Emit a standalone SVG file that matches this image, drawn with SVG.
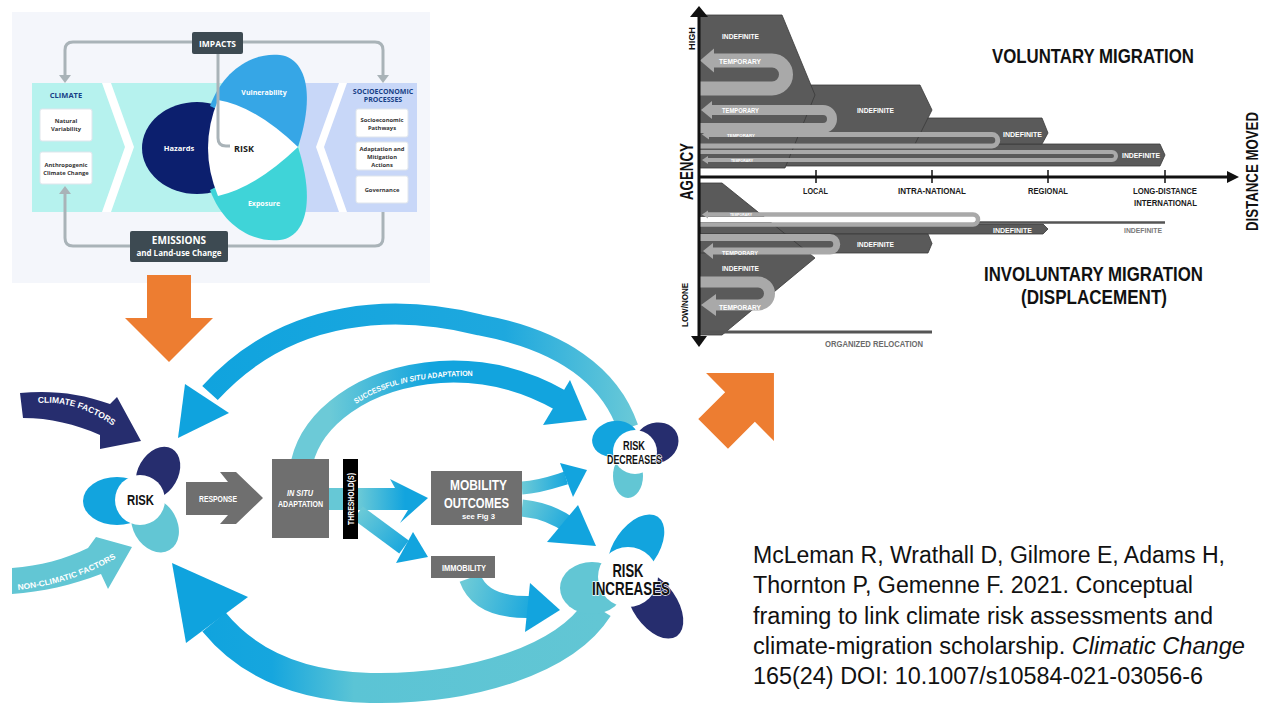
<svg xmlns="http://www.w3.org/2000/svg" width="1280" height="720" viewBox="0 0 1280 720">
<defs>
<style>
.os{font-family:"Open Sans","Noto Sans","Liberation Sans",sans-serif;font-weight:700;text-anchor:middle}
.cd{font-family:"Liberation Sans","DejaVu Sans",sans-serif;font-weight:700;text-anchor:middle}
.w{fill:#fff}
.conn{fill:none;stroke:#a9b3b8;stroke-width:3}
.cah{fill:#a9b3b8}
.wbox{fill:#fff;stroke:#dfe5ec;stroke-width:1}
.band{fill:#5a5a5a;stroke:#3a3a3a;stroke-width:0.8}
.tu{fill:none;stroke:#a9a9a9}
.tl{fill:#a9a9a9}
.gbox{fill:#6f6f6f}
.blue{fill:#12a4de}
.navy{fill:#262d6e}
.lcy{fill:#62c6d4}
</style>
<linearGradient id="gTop" gradientUnits="userSpaceOnUse" x1="640" y1="0" x2="190" y2="0">
<stop offset="0" stop-color="#6ccad7"/><stop offset="0.3" stop-color="#1ea8de"/><stop offset="1" stop-color="#0fa3de"/>
</linearGradient>
<linearGradient id="gSucc" gradientUnits="userSpaceOnUse" x1="330" y1="0" x2="430" y2="0">
<stop offset="0" stop-color="#6ccad7"/><stop offset="1" stop-color="#12a4de"/>
</linearGradient>
<linearGradient id="gBot" gradientUnits="userSpaceOnUse" x1="600" y1="0" x2="190" y2="0">
<stop offset="0" stop-color="#62c6d4"/><stop offset="0.6" stop-color="#5bc4d5"/><stop offset="0.8" stop-color="#16a6de"/><stop offset="1" stop-color="#0fa3de"/>
</linearGradient>
<linearGradient id="gMob" gradientUnits="userSpaceOnUse" x1="358" y1="0" x2="405" y2="0">
<stop offset="0" stop-color="#6ccad7"/><stop offset="1" stop-color="#12a4de"/>
</linearGradient>
<linearGradient id="gImm" gradientUnits="userSpaceOnUse" x1="360" y1="510" x2="410" y2="550">
<stop offset="0" stop-color="#6ccad7"/><stop offset="1" stop-color="#12a4de"/>
</linearGradient>
<linearGradient id="gM1" gradientUnits="userSpaceOnUse" x1="522" y1="0" x2="570" y2="0">
<stop offset="0" stop-color="#6ccad7"/><stop offset="1" stop-color="#12a4de"/>
</linearGradient>
<linearGradient id="gM2" gradientUnits="userSpaceOnUse" x1="522" y1="505" x2="575" y2="530">
<stop offset="0" stop-color="#6ccad7"/><stop offset="1" stop-color="#12a4de"/>
</linearGradient>
<linearGradient id="gI" gradientUnits="userSpaceOnUse" x1="465" y1="585" x2="540" y2="605">
<stop offset="0" stop-color="#6ccad7"/><stop offset="1" stop-color="#12a4de"/>
</linearGradient>
<path id="tpSucc" d="M356,404 C385,384 425,375 482,376"/>
<path id="tpClim" d="M38,403 C62,401 90,408 116,428"/>
<path id="tpNon" d="M18,590 C55,586 92,574 124,553"/>
</defs>

<!-- ============ TOP-LEFT: risk framework ============ -->
<g id="framework-panel">
<rect x="12" y="12" width="418" height="271" fill="#f4f6fb"/>
<rect x="32" y="83" width="270" height="129" fill="#b6f2ee"/>
<rect x="300" y="83" width="117" height="129" fill="#c8d7f8"/>
<polygon points="102,83 111,83 134,147 111,212 102,212 125,147" fill="#fff"/>
<polygon points="339,83 347,83 324,147 347,212 339,212 316,147" fill="#fff"/>
</g>
<g id="tl-connectors">
<path class="conn" d="M192,42 H73 Q65,42 65,50 V76"/>
<polygon class="cah" points="59,75 71,75 65,83"/>
<path class="conn" d="M243,42 H375 Q383,42 383,50 V76"/>
<polygon class="cah" points="377,75 389,75 383,83"/>
<path class="conn" d="M130,246 H73 Q65,246 65,238 V193"/>
<polygon class="cah" points="59,194 71,194 65,186"/>
<path class="conn" d="M228,246 H375 Q383,246 383,238 V212"/>
</g>
<g id="climate">
<text class="os" x="66" y="98" font-size="7.5" fill="#173f86">CLIMATE</text>
<rect class="wbox" x="40" y="109" width="52" height="32" rx="2"/>
<text class="os" x="66" y="123" font-size="5.8" fill="#333">Natural</text>
<text class="os" x="66" y="131" font-size="5.8" fill="#333">Variability</text>
<rect class="wbox" x="40" y="152" width="52" height="32" rx="2"/>
<text class="os" x="66" y="167" font-size="5.8" fill="#333">Anthropogenic</text>
<text class="os" x="66" y="175" font-size="5.8" fill="#333">Climate Change</text>
</g>
<g id="risk-petals">
<ellipse cx="197" cy="148" rx="55" ry="46" fill="#0c1f6e"/>
<path d="M210,106 C224,68 255,52 280,55 C305,58 316,92 298,147 Z" fill="#36a6e6"/>
<path d="M210,190 C224,228 255,243 280,240 C305,237 316,203 298,147 Z" fill="#3fd4d8"/>
<path d="M218,100 Q255,106 298,147 Q255,188 218,196 Q198,148 218,100 Z" fill="#fff"/>
<text class="os" x="179" y="151" font-size="7.5" fill="#fff">Hazards</text>
<text class="os" x="264" y="95" font-size="7" fill="#fff">Vulnerability</text>
<text class="os" x="264" y="206" font-size="7" fill="#fff">Exposure</text>
<path class="conn" d="M218,54 V138 Q218,146 226,146 H230"/>
<text class="os" x="244" y="152" font-size="9" fill="#1a1a1a">RISK</text>
</g>
<g id="impacts">
<rect x="192" y="32" width="51" height="22" rx="2" fill="#3d4a52"/>
<text class="os" x="217.5" y="46.5" font-size="8.5" fill="#fff">IMPACTS</text>
</g>
<g id="emissions">
<rect x="130" y="231" width="98" height="31" rx="2" fill="#3d4a52"/>
<text class="os" x="179" y="244" font-size="10" fill="#fff">EMISSIONS</text>
<text class="os" x="179" y="256" font-size="8" fill="#fff">and Land-use Change</text>
</g>
<g id="socioeconomic">
<text class="os" x="383" y="94" font-size="7" fill="#173f86">SOCIOECONOMIC</text>
<text class="os" x="383" y="102" font-size="7" fill="#173f86">PROCESSES</text>
<rect class="wbox" x="356" y="109" width="52" height="28" rx="2"/>
<text class="os" x="382" y="122" font-size="5.8" fill="#333">Socioeconomic</text>
<text class="os" x="382" y="130" font-size="5.8" fill="#333">Pathways</text>
<rect class="wbox" x="356" y="142" width="52" height="28" rx="2"/>
<text class="os" x="382" y="150.5" font-size="5.8" fill="#333">Adaptation and</text>
<text class="os" x="382" y="158.5" font-size="5.8" fill="#333">Mitigation</text>
<text class="os" x="382" y="166.5" font-size="5.8" fill="#333">Actions</text>
<rect class="wbox" x="356" y="176" width="52" height="27" rx="2"/>
<text class="os" x="382" y="191.5" font-size="5.8" fill="#333">Governance</text>
</g>

<!-- ============ ORANGE ARROWS ============ -->
<g id="orange-arrows" fill="#ed7d31">
<polygon points="147,275 191,275 191,318 213,318 169,362 125,318 147,318"/>
<polygon transform="translate(740,407) rotate(-45)" points="-38,-21 0,-21 0,-48 48,0 0,48 0,21 -38,21"/>
</g>

<!-- ============ TOP-RIGHT: migration chart ============ -->
<g id="migration-chart">
<polygon class="band" points="699,144 1160,144 1165,155 1160,166 699,166"/>
<polygon class="band" points="699,118 1042,118 1048,133 1042,144 699,144"/>
<polygon class="band" points="699,85 920,85 932,110 915,144 699,144"/>
<polygon class="band" points="699,15 782,15 815,95 785,168 699,168"/>
<polygon points="700,183 722,183 815,258 722,335 700,335" fill="#5a5a5a"/>
<polygon class="band" points="700,224 1043,224 1048,229 1043,234 700,234"/>
<polygon class="band" points="700,234 928,234 932,243.5 928,253 700,253"/>
<polygon points="700,183 722,183 815,258 722,335 700,335" fill="none" stroke="#3a3a3a" stroke-width="0.8"/>
<path d="M975,222.5 H1165" stroke="#555" stroke-width="2.5"/>
<path d="M702,332 H932" stroke="#555" stroke-width="3"/>
<!-- temporary U-turns -->
<path class="tu" stroke-width="14" d="M712,60.5 H772 A14 14 0 0 1 772,88.5 H699"/>
<polygon class="tl" points="700,60.5 714,48.5 714,72.5"/>
<path class="tu" stroke-width="10" d="M710,110 H823 A9 9 0 0 1 823,128 H699"/>
<polygon class="tl" points="701,110 712,101 712,119"/>
<path class="tu" stroke-width="5" d="M707,134.5 H992 A5.75 5.75 0 0 1 992,146 H699"/>
<polygon class="tl" points="702,134.5 709,129.5 709,139.5"/>
<path class="tu" stroke-width="4" d="M699,152 H1112 A4 4 0 0 1 1112,160 H707"/>
<polygon class="tl" points="702,160 708,156 708,164"/>
<rect x="700" y="217" width="274" height="5" fill="#fff"/>
<path class="tu" stroke-width="4.5" d="M706,214.5 H973 A5 5 0 0 1 973,224.5 H699"/>
<polygon class="tl" points="702,214.5 708,210.5 708,218.5"/>
<path class="tu" stroke-width="7" d="M699,237.5 H830 A6.75 6.75 0 0 1 830,251 H712"/>
<polygon class="tl" points="703,251 713,243 713,259"/>
<path class="tu" stroke-width="11" d="M699,282 H758 A11.5 11.5 0 0 1 758,305 H715"/>
<polygon class="tl" points="701,305 716,294 716,316"/>
<!-- band labels -->
<g class="cd" fill="#fff">
<text x="740.5" y="39" font-size="7.5" textLength="37" lengthAdjust="spacingAndGlyphs">INDEFINITE</text>
<text x="740" y="63.5" font-size="7.5" textLength="42" lengthAdjust="spacingAndGlyphs">TEMPORARY</text>
<text x="740.5" y="113" font-size="7" textLength="37" lengthAdjust="spacingAndGlyphs">TEMPORARY</text>
<text x="875.5" y="113" font-size="7" textLength="37" lengthAdjust="spacingAndGlyphs">INDEFINITE</text>
<text x="741" y="137" font-size="3.5" textLength="28" lengthAdjust="spacingAndGlyphs">TEMPORARY</text>
<text x="1022.5" y="137" font-size="7" textLength="39" lengthAdjust="spacingAndGlyphs">INDEFINITE</text>
<text x="742" y="161.5" font-size="3" textLength="22" lengthAdjust="spacingAndGlyphs">TEMPORARY</text>
<text x="1141" y="158" font-size="7" textLength="38" lengthAdjust="spacingAndGlyphs">INDEFINITE</text>
<text x="741" y="216" font-size="3" textLength="22" lengthAdjust="spacingAndGlyphs">TEMPORARY</text>
<text x="1012.5" y="233" font-size="7" textLength="39" lengthAdjust="spacingAndGlyphs">INDEFINITE</text>
<text x="875.5" y="247" font-size="7" textLength="37" lengthAdjust="spacingAndGlyphs">INDEFINITE</text>
<text x="740" y="255" font-size="6" textLength="36" lengthAdjust="spacingAndGlyphs">TEMPORARY</text>
<text x="740.5" y="271" font-size="7" textLength="37" lengthAdjust="spacingAndGlyphs">INDEFINITE</text>
<text x="740" y="310" font-size="7.5" textLength="42" lengthAdjust="spacingAndGlyphs">TEMPORARY</text>
</g>
<text class="cd" x="1143" y="233" font-size="7" fill="#7a7a7a" textLength="38" lengthAdjust="spacingAndGlyphs">INDEFINITE</text>
<text class="cd" x="874" y="347" font-size="9" fill="#6b6b6b" textLength="98" lengthAdjust="spacingAndGlyphs">ORGANIZED RELOCATION</text>
<!-- axes -->
<path d="M699,15 V338" stroke="#111" stroke-width="3"/>
<polygon points="699,6 690,17 708,17" fill="#111"/>
<polygon points="699,347 691,336 707,336" fill="#111"/>
<path d="M699,177 H1229" stroke="#111" stroke-width="3"/>
<polygon points="1239,177 1227,171 1227,183" fill="#111"/>
<g stroke="#111" stroke-width="1.5">
<path d="M816,170 V183"/><path d="M932,170 V183"/><path d="M1048,170 V183"/><path d="M1165,170 V183"/>
</g>
<g class="cd" fill="#1a1a1a" font-size="9.5">
<text x="815.5" y="194" textLength="25" lengthAdjust="spacingAndGlyphs">LOCAL</text>
<text x="932" y="194" textLength="68" lengthAdjust="spacingAndGlyphs">INTRA-NATIONAL</text>
<text x="1048" y="194" textLength="40" lengthAdjust="spacingAndGlyphs">REGIONAL</text>
<text x="1165" y="194" textLength="64" lengthAdjust="spacingAndGlyphs">LONG-DISTANCE</text>
<text x="1165.5" y="206" textLength="63" lengthAdjust="spacingAndGlyphs">INTERNATIONAL</text>
</g>
<g class="cd" fill="#111">
<text x="1093" y="63" font-size="20" textLength="202" lengthAdjust="spacingAndGlyphs">VOLUNTARY MIGRATION</text>
<text x="1093.5" y="281" font-size="19.5" textLength="219" lengthAdjust="spacingAndGlyphs">INVOLUNTARY MIGRATION</text>
<text x="1094" y="304" font-size="19.5" textLength="146" lengthAdjust="spacingAndGlyphs">(DISPLACEMENT)</text>
<text transform="translate(693,171.5) rotate(-90)" font-size="19" textLength="57" lengthAdjust="spacingAndGlyphs">AGENCY</text>
<text transform="translate(695,38.5) rotate(-90)" font-size="9.5" textLength="23" lengthAdjust="spacingAndGlyphs">HIGH</text>
<text transform="translate(688,305) rotate(-90)" font-size="9.5" textLength="44" lengthAdjust="spacingAndGlyphs">LOW/NONE</text>
<text transform="translate(1258,171.5) rotate(-90)" font-size="16.5" textLength="119" lengthAdjust="spacingAndGlyphs">DISTANCE MOVED</text>
</g>
</g>

<!-- ============ BOTTOM: climate-mobility framework ============ -->
<g id="connectors">
<path d="M628,428 C610,375 560,340 480,325 C400,305 290,305 210,393" fill="none" stroke="url(#gTop)" stroke-width="21"/>
<polygon points="185,384 178,438 229,413" fill="#0fa3de"/>
<path d="M302,462 C312,420 360,378 440,372 C490,369 530,383 560,400" fill="none" stroke="url(#gSucc)" stroke-width="22"/>
<polygon points="570,380 587,420 543,425" fill="#12a4de"/>
<path d="M598,608 C565,660 470,690 370,688 C295,686 245,660 214,622" fill="none" stroke="url(#gBot)" stroke-width="30"/>
<polygon points="172,563 248,597 186,643" fill="#0fa3de"/>
<rect x="329" y="488" width="14" height="22" fill="#66c8d6"/>
<polygon points="358,488 395,488 390,479 428,498 400,523 408,510 358,510" fill="url(#gMob)"/>
<path d="M358,513 L404,547" fill="none" stroke="url(#gImm)" stroke-width="16"/>
<polygon points="413,532 428,557 396,563" fill="#12a4de"/>
<path d="M522,488 C540,487 553,482 566,478" fill="none" stroke="url(#gM1)" stroke-width="13"/>
<polygon points="560,463 587,470 573,497" fill="#12a4de"/>
<path d="M522,508 C542,510 560,518 572,527" fill="none" stroke="url(#gM2)" stroke-width="17"/>
<polygon points="578,505 596,546 547,542" fill="#12a4de"/>
<path d="M470,578 C478,600 500,608 532,607" fill="none" stroke="url(#gI)" stroke-width="22"/>
<polygon points="530,583 560,610 525,632" fill="#12a4de"/>
<text font-family="Liberation Sans, sans-serif" font-weight="700" font-size="7.5" fill="#fff"><textPath href="#tpSucc" textLength="122" lengthAdjust="spacingAndGlyphs">SUCCESSFUL <tspan font-style="italic">IN SITU</tspan> ADAPTATION</textPath></text>
</g>

<g id="climate-factors">
<path class="navy" d="M20,393 C50,390 80,393 110,404 L117,397 L141,441 L100,449 L100,435 C75,424 50,418 23,418 Z"/>
<text font-family="Liberation Sans, sans-serif" font-weight="700" font-size="8.5" fill="#fff"><textPath href="#tpClim" textLength="80" lengthAdjust="spacingAndGlyphs">CLIMATE FACTORS</textPath></text>
</g>
<g id="non-climatic-factors">
<path class="lcy" d="M12,568 C40,566 65,559 88,548 L96,537 L132,547 L108,589 L101,574 C72,585 42,592 12,594 Z"/>
<text font-family="Liberation Sans, sans-serif" font-weight="700" font-size="8" fill="#fff"><textPath href="#tpNon" textLength="104" lengthAdjust="spacingAndGlyphs">NON-CLIMATIC FACTORS</textPath></text>
</g>

<g id="risk">
<ellipse class="blue" cx="117" cy="501" rx="34" ry="24"/>
<ellipse class="navy" cx="158" cy="473" rx="20" ry="28" transform="rotate(30 158 473)"/>
<ellipse class="lcy" cx="155" cy="525" rx="22" ry="29" transform="rotate(-30 155 525)"/>
<circle cx="140" cy="500" r="25" fill="#fff"/>
<text class="cd" x="140.5" y="505" font-size="15" fill="#111" textLength="27" lengthAdjust="spacingAndGlyphs">RISK</text>
</g>

<g id="response">
<polygon class="gbox" points="186,482 228,482 220,472 236,472 263,498 236,524 220,524 228,515 186,515"/>
<text class="cd" x="218" y="502" font-size="8.5" fill="#fff" textLength="38" lengthAdjust="spacingAndGlyphs">RESPONSE</text>
</g>

<g id="in-situ-adaptation">
<rect class="gbox" x="272" y="459" width="57" height="79"/>
<text class="cd" x="300" y="496" font-size="8.5" font-style="italic" fill="#fff" textLength="26" lengthAdjust="spacingAndGlyphs">IN SITU</text>
<text class="cd" x="300.5" y="507" font-size="8.5" fill="#fff" textLength="45" lengthAdjust="spacingAndGlyphs">ADAPTATION</text>
</g>

<g id="thresholds">
<rect x="343" y="459" width="15" height="80" fill="#000"/>
<text class="cd" transform="translate(354,499) rotate(-90)" font-size="9" fill="#fff" textLength="52" lengthAdjust="spacingAndGlyphs">THRESHOLD(S)</text>
</g>

<g id="mobility-outcomes">
<rect class="gbox" x="431" y="471" width="91" height="54"/>
<text class="cd" x="478.5" y="490" font-size="14" fill="#fff" textLength="57" lengthAdjust="spacingAndGlyphs">MOBILITY</text>
<text class="cd" x="476.5" y="508" font-size="14" fill="#fff" textLength="65" lengthAdjust="spacingAndGlyphs">OUTCOMES</text>
<text class="cd" x="478.5" y="519" font-size="8" fill="#fff" textLength="33" lengthAdjust="spacingAndGlyphs">see Fig 3</text>
</g>

<g id="immobility">
<rect class="gbox" x="431" y="556" width="64" height="22"/>
<text class="cd" x="464" y="571" font-size="8.5" fill="#fff" textLength="44" lengthAdjust="spacingAndGlyphs">IMMOBILITY</text>
</g>

<g id="risk-decreases">
<ellipse class="blue" cx="615" cy="439" rx="23" ry="18" transform="rotate(-10 615 439)"/>
<ellipse class="navy" cx="656" cy="443" rx="23" ry="20" transform="rotate(-25 656 443)"/>
<ellipse class="lcy" cx="628" cy="476" rx="15" ry="22"/>
<circle cx="635" cy="452" r="22" fill="#fff"/>
<text class="cd" x="634" y="450" font-size="12" fill="#111" textLength="22" lengthAdjust="spacingAndGlyphs">RISK</text>
<text class="cd" x="634.5" y="464" font-size="12" fill="#111" stroke="#fff" stroke-width="1.5" paint-order="stroke" textLength="55" lengthAdjust="spacingAndGlyphs">DECREASES</text>
</g>

<g id="risk-increases">
<ellipse class="lcy" cx="592" cy="588" rx="32" ry="26"/>
<ellipse class="blue" cx="636" cy="548" rx="22" ry="38" transform="rotate(35 636 548)"/>
<ellipse class="navy" cx="655" cy="605" rx="22" ry="38" transform="rotate(-35 655 605)"/>
<circle cx="628" cy="577" r="30" fill="#fff"/>
<text class="cd" x="628" y="577" font-size="18" fill="#111" textLength="31" lengthAdjust="spacingAndGlyphs">RISK</text>
<text class="cd" x="631" y="595" font-size="18" fill="#111" stroke="#fff" stroke-width="1.5" paint-order="stroke" textLength="78" lengthAdjust="spacingAndGlyphs">INCREASES</text>
</g>

<!-- ============ CITATION ============ -->
<g id="citation" font-family="Liberation Sans, Arial, sans-serif" font-size="23" fill="#111">
<text x="753" y="563" textLength="472" lengthAdjust="spacingAndGlyphs">McLeman R, Wrathall D, Gilmore E, Adams H,</text>
<text x="753" y="593" textLength="440" lengthAdjust="spacingAndGlyphs">Thornton P, Gemenne F. 2021. Conceptual</text>
<text x="753" y="624" textLength="460" lengthAdjust="spacingAndGlyphs">framing to link climate risk assessments and</text>
<text x="753" y="654" textLength="492" lengthAdjust="spacingAndGlyphs">climate-migration scholarship. <tspan font-style="italic">Climatic Change</tspan></text>
<text x="753" y="684" textLength="450" lengthAdjust="spacingAndGlyphs">165(24) DOI: 10.1007/s10584-021-03056-6</text>
</g>
</svg>
